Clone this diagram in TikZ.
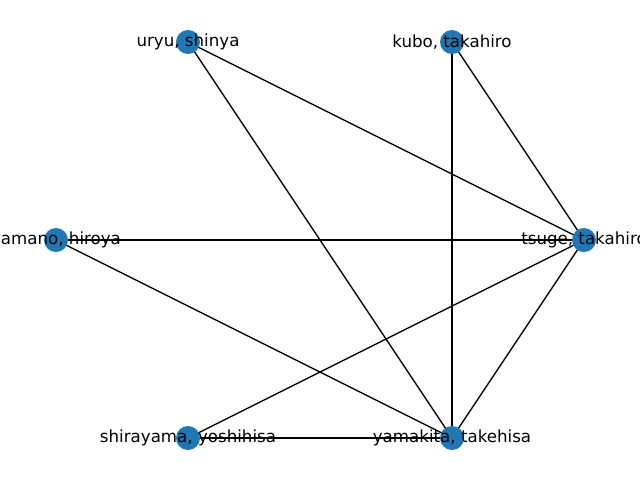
\documentclass[tikz,border=0pt]{standalone}
\usepackage{fontspec}
\setmainfont{DejaVu Sans}
\definecolor{nodeblue}{HTML}{1F77B4}
\begin{document}
\begin{tikzpicture}[x=0.75pt,y=-0.75pt,
  vertex/.style={circle,fill=nodeblue,draw=none,minimum size=18pt,inner sep=0pt},
  lbl/.style={font=\fontsize{12.5}{15}\selectfont,inner sep=0pt,text=black},
  edge/.style={draw=black,line width=1pt}]
\useasboundingbox (0,0) rectangle (640,480);
\clip (0,0) rectangle (640,480);
\fill[white] (0,0) rectangle (640,480);
\coordinate (tsuge) at (584,240);
\coordinate (kubo) at (452,42);
\coordinate (uryu) at (188,42);
\coordinate (yamano) at (56,240);
\coordinate (shira) at (188,438);
\coordinate (yamakita) at (452,438);
\draw[edge] (uryu) -- (tsuge);
\draw[edge] (uryu) -- (yamakita);
\draw[edge] (kubo) -- (tsuge);
\draw[edge] (kubo) -- (yamakita);
\draw[edge] (yamano) -- (tsuge);
\draw[edge] (yamano) -- (yamakita);
\draw[edge] (shira) -- (tsuge);
\draw[edge] (shira) -- (yamakita);
\draw[edge] (tsuge) -- (yamakita);
\node[vertex] (ntsuge) at (tsuge) {};
\node[vertex] (nkubo) at (kubo) {};
\node[vertex] (nuryu) at (uryu) {};
\node[vertex] (nyamano) at (yamano) {};
\node[vertex] (nshira) at (shira) {};
\node[vertex] (nyamakita) at (yamakita) {};
\node[lbl] (ltsuge) at (tsuge) {tsuge, takahiro};
\node[lbl] (lkubo) at (kubo) {kubo, takahiro};
\node[lbl] (luryu) at (uryu) {uryu, shinya};
\node[lbl] (lyamano) at (yamano) {yamano, hiroya};
\node[lbl] (lshira) at (shira) {shirayama, yoshihisa};
\node[lbl] (lyamakita) at (yamakita) {yamakita, takehisa};
\end{tikzpicture}
\end{document}
